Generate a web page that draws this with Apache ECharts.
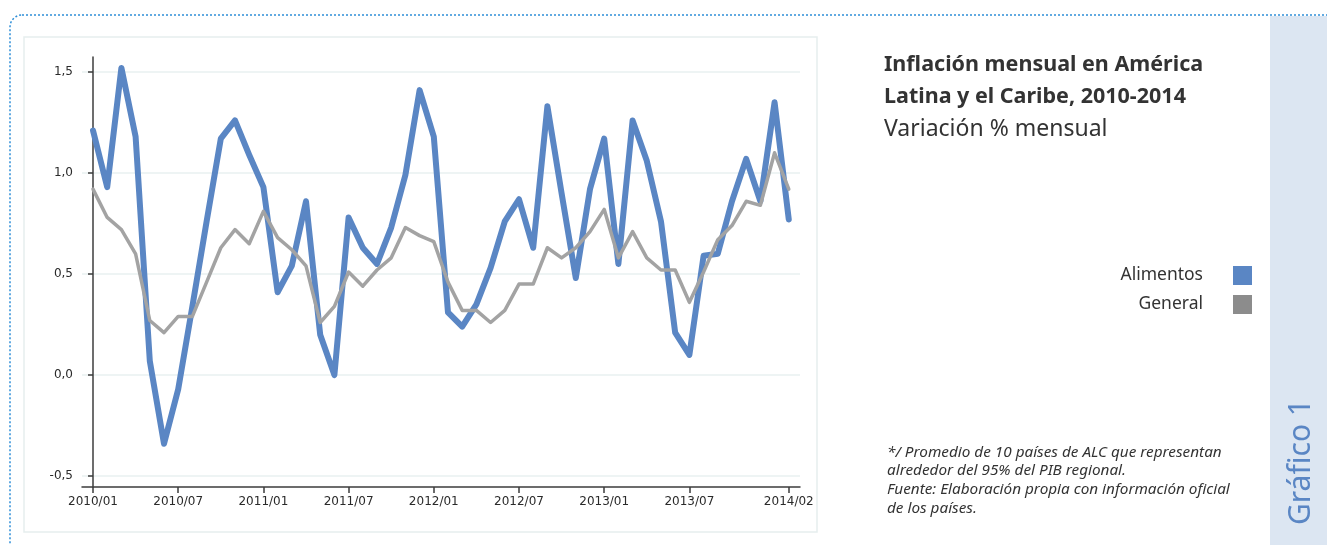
<!DOCTYPE html>
<html>
<head>
<meta charset="utf-8">
<script src="https://cdn.jsdelivr.net/npm/echarts@6/dist/echarts.min.js"></script>
<style>
  html, body { margin: 0; padding: 0; background: #fff; }
  #chart { width: 1327px; height: 545px; }
</style>
</head>
<body>
<div id="chart"></div>
<script>
// meses 2010/01 .. 2014/02
const months = [];
for (let y = 2010; y <= 2014; y++) {
    for (let m = 1; m <= 12; m++) {
        if (y === 2014 && m > 2) break;
        months.push(y + '/' + (m < 10 ? '0' + m : m));
    }
}

// variacion % mensual
const alimentos = [
    1.21, 0.93, 1.52, 1.18, 0.07, -0.34, -0.07, 0.34, 0.76, 1.17,
    1.26, 1.09, 0.93, 0.41, 0.54, 0.86, 0.20, 0.00, 0.78, 0.63,
    0.55, 0.73, 0.99, 1.41, 1.18, 0.31, 0.24, 0.35, 0.53, 0.76,
    0.87, 0.63, 1.33, 0.90, 0.48, 0.92, 1.17, 0.55, 1.26, 1.06,
    0.76, 0.21, 0.10, 0.59, 0.60, 0.86, 1.07, 0.86, 1.35, 0.77
];
const general = [
    0.92, 0.78, 0.72, 0.60, 0.27, 0.21, 0.29, 0.29, 0.46, 0.63,
    0.72, 0.65, 0.81, 0.68, 0.62, 0.54, 0.26, 0.34, 0.51, 0.44,
    0.52, 0.58, 0.73, 0.69, 0.66, 0.46, 0.32, 0.32, 0.26, 0.32,
    0.45, 0.45, 0.63, 0.58, 0.63, 0.71, 0.82, 0.58, 0.71, 0.58,
    0.52, 0.52, 0.36, 0.51, 0.67, 0.74, 0.86, 0.84, 1.10, 0.92
];

const xTicks = [0, 6, 12, 18, 24, 30, 36, 42, 49];
const yTicks = [-0.5, 0, 0.5, 1.0, 1.5];

const blue = '#5a86c4';
const grey = '#a3a3a3';
const axisColor = '#3c3c3c';
const textColor = '#333333';

const chart = echarts.init(document.getElementById('chart'));

chart.setOption({
    animation: false,
    backgroundColor: '#fff',
    grid: { left: 82, top: 57, width: 718, height: 430 },
    title: {
        text: 'Inflación mensual en América\nLatina y el Caribe, 2010-2014',
        subtext: 'Variación % mensual',
        left: 884,
        top: 49,
        padding: 0,
        itemGap: 0,
        textStyle: {
            fontFamily: 'Noto Sans', fontSize: 21.5, fontWeight: 'bold',
            color: textColor, lineHeight: 32
        },
        subtextStyle: {
            fontFamily: 'Noto Sans', fontSize: 23, color: textColor, lineHeight: 32
        }
    },
    legend: {
        orient: 'vertical',
        right: 70,
        top: 261,
        align: 'right',
        icon: 'rect',
        itemWidth: 19,
        itemHeight: 19,
        itemGap: 10,
        textStyle: {
            fontFamily: 'Noto Sans', fontSize: 17.5, color: textColor,
            lineHeight: 19, padding: [0, 25, 0, 0]
        },
        data: [
            { name: 'Alimentos', itemStyle: { color: blue } },
            { name: 'General', itemStyle: { color: '#8c8c8c' } }
        ]
    },
    xAxis: {
        type: 'value',
        min: -0.775,
        max: 49.79,
        splitLine: { show: false },
        axisLine: { onZero: false, lineStyle: { color: axisColor, width: 1.5 } },
        axisTick: { customValues: xTicks, length: 6, lineStyle: { color: axisColor, width: 1.5 } },
        axisLabel: {
            customValues: xTicks,
            formatter: v => months[Math.round(v)],
            margin: 9,
            fontFamily: '"DejaVu Sans"', fontSize: 12, color: '#2a2a2a'
        }
    },
    yAxis: {
        type: 'value',
        min: -0.554,
        max: 1.574,
        axisLine: { show: true, lineStyle: { color: axisColor, width: 1.5 } },
        axisTick: { show: true, inside: false, customValues: yTicks, length: 5, lineStyle: { color: axisColor, width: 1.5 } },
        axisLabel: {
            customValues: yTicks,
            formatter: v => v.toFixed(1).replace('.', ','),
            margin: 9,
            fontFamily: '"DejaVu Sans"', fontSize: 12, color: '#2a2a2a'
        },
        splitLine: { show: true, lineStyle: { color: '#e8f0f0', width: 1.5 } }
    },
    series: [
        {
            name: 'Alimentos',
            type: 'line',
            data: alimentos.map((v, i) => [i, v]),
            showSymbol: false,
            symbol: 'none',
            lineStyle: { color: blue, width: 6, cap: 'round', join: 'round' },
            itemStyle: { color: blue }
        },
        {
            name: 'General',
            type: 'line',
            data: general.map((v, i) => [i, v]),
            showSymbol: false,
            symbol: 'none',
            lineStyle: { color: grey, width: 3.5, cap: 'round', join: 'round' },
            itemStyle: { color: grey }
        }
    ],
    graphic: [
        {
            type: 'rect', z: -20,
            shape: { x: 10, y: 15, width: 1400, height: 620, r: 12 },
            style: { fill: '#fff', stroke: '#2f8fd8', lineWidth: 1.5, lineDash: [2, 2] }
        },
        {
            type: 'rect', z: -15,
            shape: { x: 1270, y: 16, width: 60, height: 540 },
            style: { fill: '#dce6f2' }
        },
        {
            type: 'rect', z: -10,
            shape: { x: 24, y: 37, width: 793, height: 495 },
            style: { fill: '#fff', stroke: '#e6eeee', lineWidth: 1.5 }
        },
        {
            type: 'text', z: 10,
            x: 887, y: 443,
            style: {
                text: '*/ Promedio de 10 países de ALC que representan\n' +
                      'alrededor del 95% del PIB regional.\n' +
                      'Fuente: Elaboración propia con información oficial\n' +
                      'de los países.',
                font: 'italic 15.3px "Noto Sans"',
                lineHeight: 18.7,
                fill: textColor
            }
        },
        {
            type: 'text', z: 10,
            x: 1301, y: 462,
            rotation: Math.PI / 2,
            style: {
                text: 'Gráfico 1',
                font: '30px "Noto Sans"',
                fill: blue,
                align: 'center',
                verticalAlign: 'middle'
            }
        }
    ]
});
</script>
</body>
</html>
